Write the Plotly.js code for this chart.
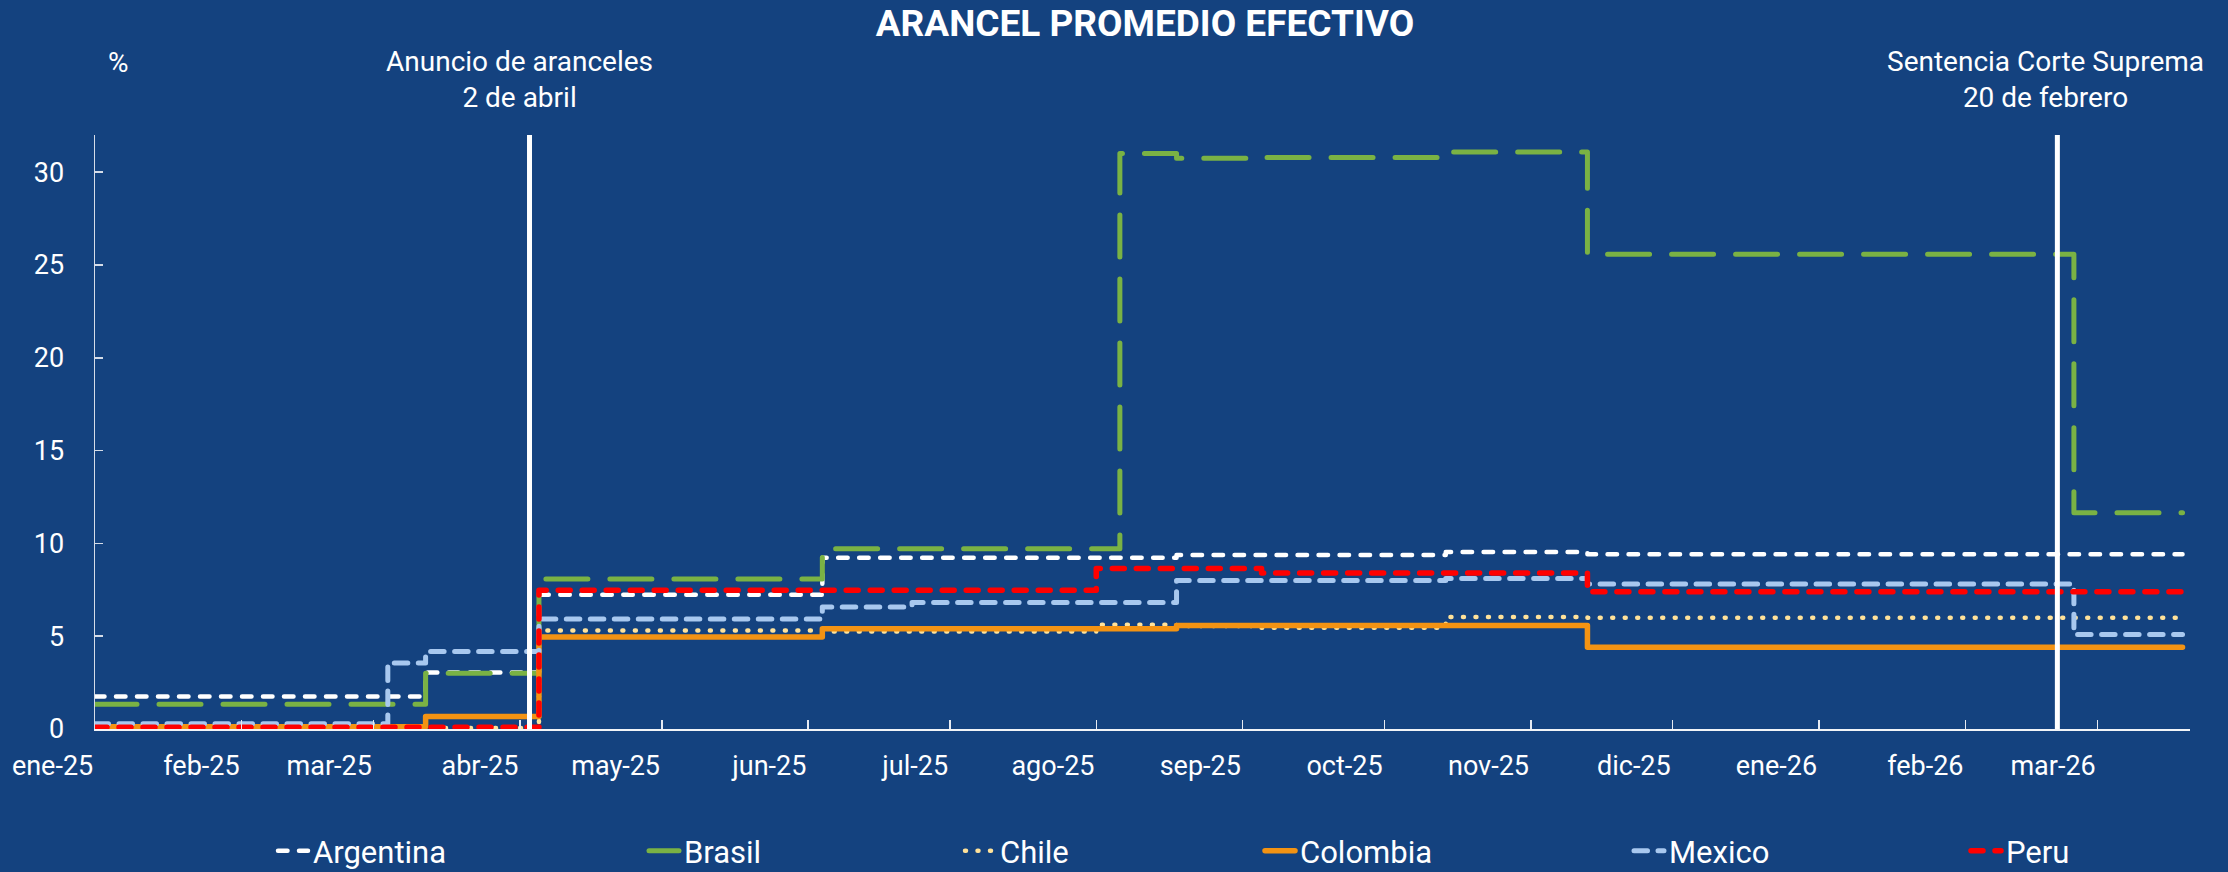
<!DOCTYPE html>
<html>
<head>
<meta charset="utf-8">
<script src="https://cdn.plot.ly/plotly-3.0.1.min.js"></script>
<style>
  html, body { margin: 0; padding: 0; background: #14427F; }
  #chart { width: 2228px; height: 872px; }
  path.js-line { stroke-linecap: round !important; stroke-linejoin: round !important; }
</style>
</head>
<body>
<div id="chart"></div>
<script>
// ---- Data ----
const argentinaDates = ['2025-01-01','2025-03-12','2025-04-05','2025-06-04','2025-08-18','2025-10-14','2025-11-13','2026-03-19'];
const argentinaValues = [1.75, 3.05, 7.23, 9.23, 9.37, 9.53, 9.42, 9.42];

const brasilDates = ['2025-01-01','2025-03-12','2025-04-05','2025-06-04','2025-08-06','2025-08-18','2025-09-05','2025-10-14','2025-11-13','2026-02-24','2026-03-19'];
const brasilValues = [1.34, 3.0, 8.08, 9.71, 31.0, 30.75, 30.79, 31.08, 25.58, 11.65, 11.65];

const chileDates = ['2025-01-01','2025-04-05','2025-06-04','2025-08-01','2025-08-18','2025-09-05','2025-10-14','2025-11-13','2026-03-19'];
const chileValues = [0.05, 5.31, 5.25, 5.62, 5.55, 5.45, 6.03, 5.99, 5.99];

const colombiaDates = ['2025-01-01','2025-03-12','2025-04-05','2025-06-04','2025-08-18','2025-11-13','2026-03-19'];
const colombiaValues = [0.12, 0.67, 4.95, 5.40, 5.58, 4.41, 4.41];

const mexicoDates = ['2025-01-01','2025-03-04','2025-03-12','2025-04-05','2025-06-04','2025-06-23','2025-08-18','2025-10-14','2025-11-13','2026-02-24','2026-03-19'];
const mexicoValues = [0.28, 3.55, 4.18, 5.92, 6.57, 6.82, 8.0, 8.11, 7.81, 5.09, 5.09];

const peruDates = ['2025-01-01','2025-04-05','2025-08-01','2025-09-05','2025-11-13','2026-03-19'];
const peruValues = [0.10, 7.47, 8.65, 8.40, 7.39, 7.39];

const seriesNames = ['Argentina','Brasil','Chile','Colombia','Mexico','Peru'];

const monthTicks = ['2025-01-01','2025-02-01','2025-03-01','2025-04-01','2025-05-01','2025-06-01','2025-07-01','2025-08-01','2025-09-01','2025-10-01','2025-11-01','2025-12-01','2026-01-01','2026-02-01','2026-03-01'];
const monthLabels = ['ene-25','feb-25','mar-25','abr-25','may-25','jun-25','jul-25','ago-25','sep-25','oct-25','nov-25','dic-25','ene-26','feb-26','mar-26'];

const yTicks = [0, 5, 10, 15, 20, 25, 30];

const eventDates = ['2025-04-03', '2026-02-20 12:00'];
const eventLabels = ['Anuncio de aranceles<br>2 de abril', 'Sentencia Corte Suprema<br>20 de febrero'];

// ---- Styles ----
const FONT = 'Roboto, "Open Sans", sans-serif';
const BG = '#14427F';

const styles = [
  {color: '#FFFFFF', width: 4.5, dash: '9.5px,11.5px'},
  {color: '#7AB244', width: 5,   dash: '42px,22px'},
  {color: '#FFE29A', width: 4.5, dash: '1px,11.5px'},
  {color: '#F39313', width: 5.5, dash: 'solid'},
  {color: '#A8C8EF', width: 5,   dash: '13.5px,10.5px'},
  {color: '#FF0000', width: 5.5, dash: '12px,12px'}
];
const allDates = [argentinaDates, brasilDates, chileDates, colombiaDates, mexicoDates, peruDates];
const allValues = [argentinaValues, brasilValues, chileValues, colombiaValues, mexicoValues, peruValues];
const legendIds = ['legend','legend2','legend3','legend4','legend5','legend6'];
// left edge of each legend box, in page pixels
const legendPx = [273, 644, 960, 1260, 1629, 1966];

const traces = seriesNames.map((name, i) => ({
  type: 'scatter',
  mode: 'lines',
  name: name,
  x: allDates[i],
  y: allValues[i],
  line: {shape: 'hv', color: styles[i].color, width: styles[i].width, dash: styles[i].dash},
  legend: legendIds[i],
  hoverinfo: 'skip'
}));

const layout = {
  width: 2228,
  height: 872,
  paper_bgcolor: BG,
  plot_bgcolor: BG,
  font: {family: FONT, color: '#FFFFFF', size: 27},
  margin: {l: 95, r: 38, t: 135, b: 143, pad: 0, autoexpand: false},
  title: {
    text: 'ARANCEL PROMEDIO EFECTIVO',
    font: {family: FONT, size: 37, color: '#FFFFFF', weight: 700},
    x: 0.5139, xanchor: 'center', xref: 'container',
    y: 0.973, yanchor: 'middle', yref: 'container'
  },
  xaxis: {
    type: 'date',
    range: ['2025-01-01', '2026-03-20 14:00'],
    tickvals: monthTicks,
    ticktext: monthLabels,
    ticks: 'inside',
    ticklen: 9,
    tickwidth: 1.5,
    tickcolor: '#E6EAF2',
    showline: true,
    linecolor: '#F2F4F8',
    linewidth: 2,
    showgrid: false,
    zeroline: false,
    ticklabelposition: 'outside left',
    ticklabelstandoff: 12,
    tickfont: {family: FONT, size: 27, color: '#FFFFFF'},
    fixedrange: true,
    automargin: false
  },
  yaxis: {
    range: [0, 32],
    tickvals: yTicks,
    ticktext: yTicks.map(String),
    ticks: 'inside',
    ticklen: 8,
    tickwidth: 1.5,
    tickcolor: '#D5DCE8',
    showline: true,
    linecolor: '#D5DCE8',
    linewidth: 1.5,
    showgrid: false,
    zeroline: false,
    ticklabelstandoff: 24,
    tickfont: {family: FONT, size: 27, color: '#FFFFFF'},
    fixedrange: true,
    automargin: false
  },
  shapes: eventDates.map(d => ({
    type: 'line', xref: 'x', yref: 'paper',
    x0: d, x1: d, y0: 0, y1: 1,
    line: {color: '#FFFFFF', width: 5},
    layer: 'above'
  })),
  annotations: [
    {text: '%', xref: 'paper', yref: 'paper', x: (118 - 95) / 2095, y: (729 - 62.5) / 594,
     xanchor: 'center', yanchor: 'middle', showarrow: false, font: {family: FONT, size: 28, color: '#FFFFFF'}},
    {text: eventLabels[0], xref: 'paper', yref: 'paper', x: (519 - 95) / 2095, y: (729 - 79) / 594,
     xanchor: 'center', yanchor: 'middle', align: 'center', showarrow: false, font: {family: FONT, size: 28, color: '#FFFFFF'}},
    {text: eventLabels[1], xref: 'paper', yref: 'paper', x: (2045 - 95) / 2095, y: (729 - 79) / 594,
     xanchor: 'center', yanchor: 'middle', align: 'center', showarrow: false, font: {family: FONT, size: 28, color: '#FFFFFF'}}
  ],
  showlegend: true,
  hovermode: false
};

legendIds.forEach((id, i) => {
  layout[id] = {
    orientation: 'h',
    xref: 'container', yref: 'container',
    x: legendPx[i] / 2228, xanchor: 'left',
    y: 1 - 851 / 872, yanchor: 'middle',
    bgcolor: 'rgba(0,0,0,0)',
    borderwidth: 0,
    font: {family: FONT, size: 31, color: '#FFFFFF'}
  };
});

Plotly.newPlot('chart', traces, layout, {displayModeBar: false, staticPlot: true}).then(gd => {
  document.querySelectorAll('path.js-line').forEach(p => {
    p.style.strokeLinecap = 'round';
    p.style.strokeLinejoin = 'round';
  });
});
</script>
</body>
</html>
